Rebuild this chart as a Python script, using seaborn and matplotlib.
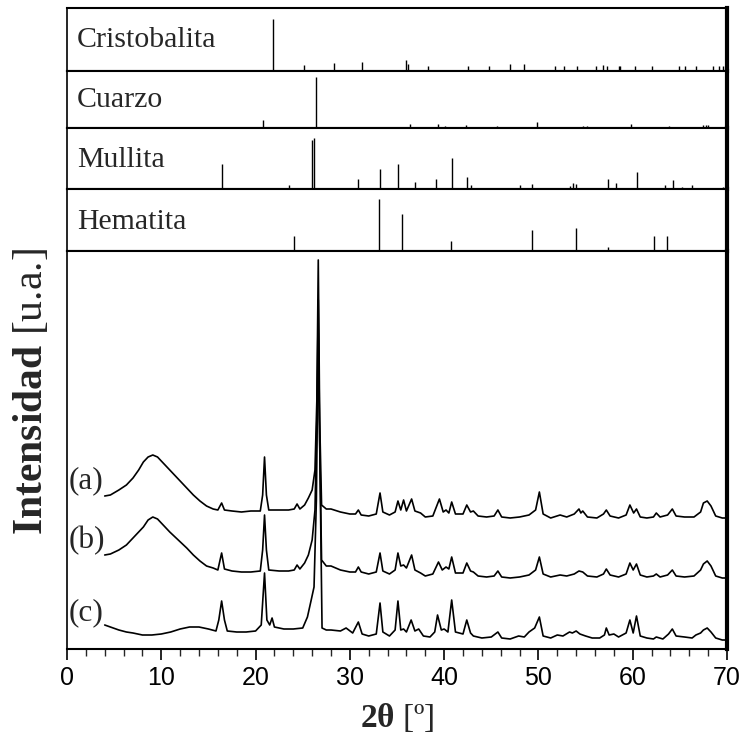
import numpy as np
import pandas as pd
import matplotlib
matplotlib.use("Agg")
import matplotlib.pyplot as plt
import seaborn as sns

sns.set_style("white")
plt.rcParams['font.family'] = ['Liberation Serif', 'DejaVu Serif']
plt.rcParams['mathtext.fontset'] = 'custom'
plt.rcParams['mathtext.rm'] = 'Liberation Serif'
plt.rcParams['mathtext.bf'] = 'Liberation Serif:bold'
plt.rcParams['mathtext.it'] = 'Liberation Serif:italic'

# ---------------- reference stick patterns (2theta, relative height) ----------
cristobalita_pos = [21.8, 25.1, 28.3, 31.3, 36.0, 36.2, 38.3, 42.5, 44.8, 47.0, 48.5, 51.8, 52.7,
                    54.1, 56.1, 56.9, 57.3, 58.5, 58.7, 60.2, 62.0, 64.9, 65.5, 66.7, 68.5, 69.1, 69.6]
cristobalita_h = [52, 6, 8, 9, 11, 7, 5, 5, 5, 7, 7, 5, 5,
                  5, 5, 6, 5, 5, 5, 5, 5, 5, 5, 5, 5, 5, 5]

cuarzo_pos = [20.8, 26.4, 36.4, 39.3, 40.1, 42.3, 45.6, 49.9, 54.7, 55.1, 59.8, 63.8, 67.5, 67.8, 68.0]
cuarzo_h = [8, 51, 4, 4, 2, 3, 2, 6, 2, 2, 4, 2, 3, 3, 3]

mullita_pos = [16.4, 23.5, 25.95, 26.2, 30.9, 33.2, 35.1, 36.9, 39.1, 40.8, 42.4, 42.8, 48.0, 49.3,
               53.3, 53.7, 53.95, 57.4, 58.2, 60.5, 63.4, 64.3, 65.2, 66.3, 69.6]
mullita_h = [25, 4, 49, 51, 10, 20, 25, 7, 10, 31, 12, 4, 4, 5,
             3, 6, 5, 10, 6, 17, 4, 9, 2, 4, 2]

hematita_pos = [24.1, 33.1, 35.5, 40.7, 49.3, 54.0, 57.4, 62.3, 63.6, 69.3]
hematita_h = [15, 52, 37, 10, 21, 23, 4, 15, 15, 1]

phase_names = ["Cristobalita", "Cuarzo", "Mullita", "Hematita"]

# ---------------- measured XRD patterns ----------------
tt_a = [4.0, 4.6, 5.5, 6.3, 7.0, 7.6, 8.1, 8.6, 9.1, 9.6, 10.2, 10.9, 11.8, 12.7, 13.4, 14.1, 14.8,
        15.5, 16.0, 16.4, 16.7, 17.5, 18.5, 19.5, 20.5, 20.75, 20.95, 21.15, 21.4, 22.5, 23.5, 24.1,
        24.4, 24.7, 25.2, 25.6, 26.0, 26.3, 26.5, 26.65, 26.8, 27.0, 27.5, 28.0, 29.0, 30.0, 30.6,
        30.9, 31.2, 32.0, 32.8, 33.2, 33.5, 34.2, 34.8, 35.1, 35.4, 35.7, 36.0, 36.55, 36.9, 37.5,
        38.0, 38.8, 39.5, 39.9, 40.2, 40.5, 40.8, 41.2, 42.0, 42.4, 42.8, 43.1, 43.6, 44.5, 45.3,
        45.7, 46.1, 47.0, 48.0, 49.0, 49.7, 50.1, 50.5, 51.3, 52.3, 53.0, 53.8, 54.3, 54.5, 54.7,
        55.2, 56.2, 56.9, 57.2, 57.6, 58.5, 59.3, 59.7, 60.1, 60.4, 60.8, 61.5, 62.2, 62.5, 62.9,
        63.7, 64.2, 64.6, 65.5, 66.5, 67.2, 67.5, 67.9, 68.3, 68.8, 69.5, 70.0]
int_a = [153, 154, 159, 164, 171, 179, 187, 192, 194, 192, 186, 179, 170, 161, 154, 148, 143,
         140, 139, 146, 139, 138, 137, 138, 138, 154, 192, 154, 139, 139, 139, 140,
         145, 140, 144, 151, 159, 179, 249, 389, 229, 144, 140, 140, 137, 135, 135,
         139, 134, 133, 135, 156, 137, 134, 137, 148, 139, 149, 138, 150, 138, 136,
         132, 133, 150, 137, 139, 136, 147, 135, 135, 144, 137, 138, 133, 132, 133,
         139, 132, 131, 132, 134, 139, 157, 135, 131, 134, 132, 135, 140, 136, 138,
         132, 131, 135, 139, 133, 131, 134, 144, 136, 140, 132, 131, 132, 136, 132,
         134, 140, 133, 132, 132, 137, 146, 148, 143, 133, 131, 131]

tt_b = [4.0, 4.6, 5.5, 6.3, 7.0, 7.6, 8.1, 8.6, 9.1, 9.6, 10.2, 10.9, 11.8, 12.7, 13.4, 14.1, 14.8,
        15.5, 16.0, 16.4, 16.7, 17.5, 18.5, 19.5, 20.5, 20.75, 20.95, 21.15, 21.4, 22.5, 23.5, 24.1,
        24.4, 24.7, 25.2, 25.6, 26.0, 26.3, 26.5, 26.65, 26.8, 27.0, 27.5, 28.0, 29.0, 30.0, 30.6,
        30.9, 31.2, 32.0, 32.8, 33.2, 33.5, 34.2, 34.8, 35.1, 35.4, 35.7, 36.0, 36.55, 36.9, 37.5,
        38.0, 38.8, 39.4, 39.8, 40.2, 40.5, 40.8, 41.2, 42.0, 42.4, 42.8, 43.1, 43.6, 44.5, 45.3,
        45.7, 46.1, 47.0, 48.0, 49.0, 49.7, 50.1, 50.5, 51.3, 52.3, 53.0, 53.8, 54.3, 54.7, 55.2,
        56.2, 56.9, 57.2, 57.6, 58.5, 59.3, 59.7, 60.05, 60.4, 60.8, 61.5, 62.2, 62.5, 62.9, 63.7,
        64.2, 64.6, 65.5, 66.5, 67.2, 67.5, 67.9, 68.3, 68.8, 69.5, 70.0]
int_b = [94, 95, 99, 104, 111, 117, 122, 129, 132, 130, 124, 117, 109, 101, 94, 88, 83,
         81, 79, 96, 80, 78, 77, 77, 78, 99, 134, 99, 79, 78, 78, 79,
         84, 80, 86, 94, 109, 139, 229, 349, 209, 89, 83, 83, 79, 77, 77,
         82, 77, 75, 77, 96, 78, 75, 79, 96, 83, 84, 81, 94, 79, 76,
         73, 75, 87, 79, 82, 80, 92, 76, 76, 86, 78, 77, 73, 72, 73,
         78, 72, 71, 72, 74, 79, 92, 75, 72, 74, 73, 75, 78, 77, 73,
         72, 75, 80, 74, 72, 75, 86, 79, 85, 74, 72, 73, 75, 72, 74,
         79, 73, 72, 73, 79, 85, 88, 83, 73, 71, 71]

tt_c = [4.0, 4.6, 5.5, 6.3, 7.0, 8.0, 9.0, 10.0, 11.0, 12.0, 13.0, 14.0, 15.0, 15.8, 16.1, 16.4,
        16.7, 17.0, 18.0, 19.0, 20.0, 20.6, 20.95, 21.2, 21.5, 21.75, 22.0, 23.0, 24.0, 25.0, 25.5,
        25.9, 26.2, 26.45, 26.65, 26.85, 27.05, 27.5, 28.0, 29.0, 29.6, 30.3, 30.9, 31.3, 32.0,
        32.8, 33.2, 33.5, 34.2, 34.8, 35.1, 35.4, 35.7, 36.0, 36.5, 36.9, 37.3, 37.8, 38.5, 39.0,
        39.3, 39.7, 40.0, 40.4, 40.8, 41.2, 42.0, 42.4, 42.8, 43.1, 44.0, 45.0, 45.7, 46.1, 47.0,
        47.9, 48.5, 49.0, 49.6, 50.1, 50.5, 51.3, 52.0, 52.6, 53.3, 53.6, 54.0, 54.4, 55.0, 55.7,
        56.5, 57.0, 57.2, 57.5, 58.0, 58.5, 59.3, 59.7, 60.05, 60.4, 60.8, 61.5, 62.2, 62.5, 63.2,
        63.8, 64.2, 64.6, 65.5, 66.3, 66.7, 67.2, 67.5, 67.9, 68.3, 68.8, 69.5, 70.0]
int_c = [24, 22, 19, 17, 16, 14, 14, 15, 17, 20, 22, 22, 20, 18, 29, 48,
         29, 18, 17, 17, 18, 24, 76, 29, 24, 31, 22, 20, 20, 21, 32,
         49, 62, 149, 319, 169, 21, 19, 19, 18, 21, 16, 27, 15, 13,
         15, 46, 17, 13, 19, 48, 19, 20, 17, 29, 18, 20, 13, 12, 17,
         34, 19, 20, 17, 49, 17, 15, 29, 16, 13, 11, 12, 17, 11, 10,
         13, 12, 17, 21, 32, 13, 11, 14, 13, 17, 16, 18, 15, 13, 11,
         11, 14, 21, 14, 15, 12, 16, 29, 16, 33, 13, 11, 10, 12, 10,
         15, 20, 13, 12, 11, 14, 16, 19, 21, 17, 11, 9, 9]

sample_labels = ["(a)", "(b)", "(c)"]

patterns = pd.concat([
    pd.DataFrame({"tt": tt_a, "I": int_a, "muestra": "(a)"}),
    pd.DataFrame({"tt": tt_b, "I": int_b, "muestra": "(b)"}),
    pd.DataFrame({"tt": tt_c, "I": int_c, "muestra": "(c)"}),
], ignore_index=True)

# ---------------- figure ----------------
W = H = 742
fig = plt.figure(figsize=(7.42, 7.42), dpi=100)

def px_axes(x0, y0, x1, y1):
    return fig.add_axes([x0 / W, 1 - y1 / H, (x1 - x0) / W, (y1 - y0) / H])

X0, X1 = 67, 727
panel_edges = [8, 71, 128, 189, 251]
panel_data = [(cristobalita_pos, cristobalita_h), (cuarzo_pos, cuarzo_h),
              (mullita_pos, mullita_h), (hematita_pos, hematita_h)]
label_centers = [40, 100, 160, 222]

for i, (name, (pos, hh)) in enumerate(zip(phase_names, panel_data)):
    top, bot = panel_edges[i], panel_edges[i + 1]
    ax = px_axes(X0, top, X1, bot)
    ax.vlines(pos, 0, hh, color="black", lw=1.0)
    ax.set_xlim(0, 70)
    ax.set_ylim(0, bot - top)
    ax.set_xticks([])
    ax.set_yticks([])
    for s in ax.spines.values():
        s.set_color("black")
        s.set_linewidth(1.5)
    ax.spines["right"].set_linewidth(3.0)
    ax.spines["left"].set_linewidth(1.2)
    ax.set_facecolor("white")
    fig.text(77 / W, 1 - label_centers[i] / H, name, ha="left", va="center",
             fontsize=21.5, family=["Liberation Serif"])

axm = px_axes(X0, 251, X1, 649)
sns.lineplot(data=patterns, x="tt", y="I", units="muestra", estimator=None, sort=False,
             color="black", lw=1.2, ax=axm, legend=False)
axm.set_xlim(0, 70)
axm.set_ylim(0, 398)
axm.set_yticks([])
axm.set_xlabel("")
axm.set_ylabel("")
axm.set_xticks(range(0, 71, 10))
axm.set_xticks(range(0, 71, 2), minor=True)
axm.tick_params(axis="x", which="major", direction="out", length=8, width=1.2,
                bottom=True, labelsize=18, pad=4, colors="black")
axm.tick_params(axis="x", which="minor", direction="out", length=5, width=1.0, bottom=True)
for lab in axm.get_xticklabels():
    lab.set_family(["Liberation Sans"])
for s in axm.spines.values():
    s.set_color("black")
    s.set_linewidth(1.5)
axm.spines["right"].set_linewidth(3.0)
axm.spines["left"].set_linewidth(1.2)

label_y = [481, 541, 613]
for lab, yy in zip(sample_labels, label_y):
    fig.text(69 / W, 1 - yy / H, lab, ha="left", va="center", fontsize=22.5,
             family=["Liberation Serif"])

fig.text(32 / W, 1 - 392 / H, r"$\mathbf{Intensidad}$ [u.a.]", rotation=90,
         ha="center", va="center", fontsize=30)
fig.text(397 / W, 1 - 718 / H, r"$\mathbf{2θ}$ [º]", ha="center", va="center", fontsize=24)

fig.savefig("out.png", dpi=100, facecolor="white")
